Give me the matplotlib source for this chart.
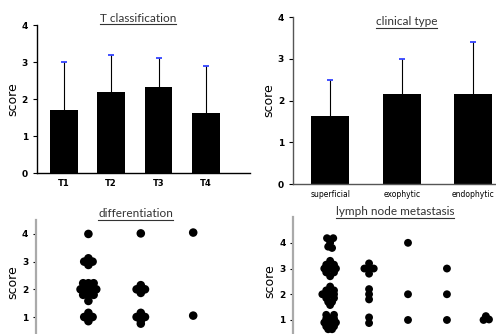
import matplotlib
matplotlib.use("Agg")
from matplotlib import pyplot as plt
from matplotlib.lines import Line2D
import numpy as np

# --- data ---
t_labels = ["T1", "T2", "T3", "T4"]
t_mean = [1.7, 2.2, 2.33, 1.62]
t_top = [3.0, 3.2, 3.1, 2.9]

type_labels = ["superficial", "exophytic", "endophytic"]
type_mean = [1.63, 2.15, 2.15]
type_top = [2.5, 3.0, 3.4]

diff_score = [4.0,
              3.12, 3.0, 3.0, 2.88,
              2.22, 2.22, 2.22, 2.0, 2.0, 2.0, 2.0, 1.8, 1.8, 1.8, 1.58,
              1.15, 1.0, 1.0, 1.0, 0.85,
              4.02, 2.15, 2.0, 2.0, 1.87,
              1.15, 1.0, 1.0, 0.87, 0.76,
              4.05, 1.05]
diff_dx = [0.0,
           0.0, -0.08, 0.08, 0.0,
           -0.1, 0.0, 0.1, -0.15, -0.05, 0.05, 0.15, -0.1, 0.0, 0.1, 0.0,
           0.0, -0.08, 0.08, 0.0, 0.0,
           0.0, 0.0, -0.08, 0.08, 0.0,
           0.0, -0.08, 0.08, 0.0, 0.0,
           0.0, 0.0]
diff_group = [1] * 21 + [2] * 10 + [3] * 2

lymph_group = [1] * 40 + [2] * 10 + [3] * 3 + [4] * 3 + [5] * 3
lymph_score = [4.18, 4.18, 4.0, 3.85, 3.8,
               3.3, 3.15, 3.15, 3.0, 3.0, 3.0, 3.0, 2.85, 2.85, 2.7,
               2.3, 2.15, 2.15, 2.0, 2.0, 2.0, 2.0, 1.85, 1.85, 1.7, 1.7, 1.58,
               1.2, 1.2, 1.05, 1.05, 1.05, 0.9, 0.9, 0.9, 0.9, 0.75, 0.75, 0.64, 0.64,
               3.2, 3.0, 3.0, 3.0, 2.8,
               2.2, 2.0, 1.8,
               1.1, 0.88,
               4.0, 2.0, 1.0,
               3.0, 2.0, 1.0,
               1.15, 1.0, 1.02]
lymph_dx = [-0.08, 0.08, 0.0, -0.05, 0.05,
            0.0, -0.1, 0.1, -0.15, -0.05, 0.05, 0.15, -0.1, 0.1, 0.0,
            0.0, -0.1, 0.1, -0.2, -0.1, 0.0, 0.1, -0.1, 0.1, -0.05, 0.05, 0.0,
            -0.1, 0.1, -0.1, 0.0, 0.1, -0.15, -0.05, 0.05, 0.15, -0.1, 0.1, -0.05, 0.05,
            0.0, -0.12, 0.0, 0.12, 0.0,
            0.0, 0.0, 0.0,
            0.0, 0.0,
            0.0, 0.0, 0.0,
            0.0, 0.0, 0.0,
            0.0, -0.06, 0.08]

TITLE_FONT = "Lato"


def underlined_title(fig, text, x, y):
    t = fig.text(x, y, text, ha="center", va="baseline", fontsize=8.5,
                 family=TITLE_FONT, color="#333333")
    fig.canvas.draw()
    bb = t.get_window_extent().transformed(fig.transFigure.inverted())
    fig.add_artist(Line2D([bb.x0, bb.x1], [y - 0.008, y - 0.008],
                          transform=fig.transFigure, color="#333333", lw=0.8))


def bar_panel(ax, labels, mean, top, width, spine_color, tick_size):
    x = np.arange(len(labels))
    up = np.array(top) - np.array(mean)
    eb = ax.errorbar(x, mean, yerr=[np.zeros(len(x)), up], fmt="none",
                     ecolor="black", elinewidth=0.8, capsize=2.5, capthick=1.2,
                     zorder=1)
    # only the upper cap is drawn, in blue
    eb[1][0].set_visible(False)
    eb[1][1].set_markeredgecolor("#2233ff")
    ax.bar(x, mean, width=width, color="black", zorder=2)
    ax.set_xticks(x)
    ax.set_xticklabels(labels, fontsize=tick_size, fontweight="bold")
    ax.set_ylim(0, 4)
    ax.set_yticks([0, 1, 2, 3, 4])
    ax.tick_params(axis="y", labelsize=6.5, length=3, width=0.8)
    ax.tick_params(axis="x", length=0, pad=4)
    for lab in ax.get_yticklabels():
        lab.set_fontweight("bold")
    for s in ["top", "right"]:
        ax.spines[s].set_visible(False)
    for s in ["left", "bottom"]:
        ax.spines[s].set_color(spine_color)
        ax.spines[s].set_linewidth(1.0)
    ax.set_ylabel("score", fontsize=9, labelpad=2)


def dot_panel(ax, group, score, dx, size):
    xs = np.array(group) + np.array(dx)
    ax.scatter(xs, score, s=size, color="black", edgecolors="none", zorder=3)
    ax.set_yticks([1, 2, 3, 4])
    ax.tick_params(axis="y", labelsize=6.5, length=2, width=0.8)
    for lab in ax.get_yticklabels():
        lab.set_fontweight("bold")
    ax.set_xticks([])
    for s in ["top", "right", "bottom"]:
        ax.spines[s].set_visible(False)
    ax.spines["left"].set_color("#aaaaaa")
    ax.spines["left"].set_linewidth(1.6)
    ax.set_ylabel("score", fontsize=9, labelpad=2)


fig = plt.figure(figsize=(4.96, 3.34), dpi=100)

ax1 = fig.add_axes([0.0746, 0.482, 0.429, 0.443])
bar_panel(ax1, t_labels, t_mean, t_top, 0.59, "black", 6)
ax1.set_xlim(-0.57, 3.93)

ax2 = fig.add_axes([0.591, 0.449, 0.409, 0.500])
bar_panel(ax2, type_labels, type_mean, type_top, 0.53, "#555555", 5.5)
ax2.set_xlim(-0.52, 2.32)
for lab in ax2.get_xticklabels():
    lab.set_fontweight("normal")

ax3 = fig.add_axes([0.0726, -0.032, 0.431, 0.373])
dot_panel(ax3, diff_group, diff_score, diff_dx, 38)
ax3.set_xlim(0, 4.08)
ax3.set_ylim(0, 4.5)

ax4 = fig.add_axes([0.591, -0.035, 0.409, 0.385])
dot_panel(ax4, lymph_group, lymph_score, lymph_dx, 32)
ax4.set_xlim(0.05, 5.26)
ax4.set_ylim(0, 5)

underlined_title(fig, "T classification", 0.278, 0.935)
underlined_title(fig, "clinical type", 0.82, 0.925)
underlined_title(fig, "differentiation", 0.274, 0.35)
underlined_title(fig, "lymph node metastasis", 0.796, 0.356)

fig.savefig("out.png", dpi=100)
